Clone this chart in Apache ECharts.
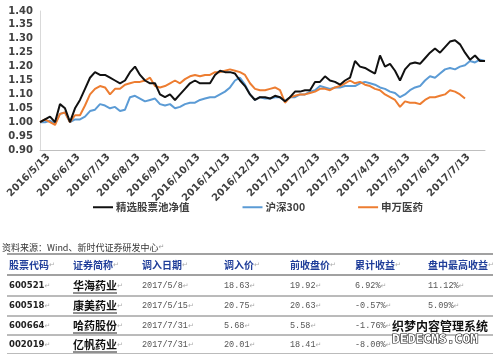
<!DOCTYPE html>
<html><head><meta charset="utf-8">
<script src="https://cdn.jsdelivr.net/npm/echarts@6/dist/echarts.min.js"></script>
<style>html,body{margin:0;padding:0;background:#fff}#c{width:500px;height:354px}</style>
</head><body><div id="c"></div>
<script>
// ---- data ----
const tickLabels = ['2016/5/13','2016/6/13','2016/7/13','2016/8/13','2016/9/13','2016/10/13','2016/11/13','2016/12/13','2017/1/13','2017/2/13','2017/3/13','2017/4/13','2017/5/13','2017/6/13','2017/7/13'];
const seriesNames = ['精选股票池净值','沪深300','申万医药'];
const netValue = [1.00,1.01,1.02,1.00,1.065,1.05,1.00,1.05,1.08,1.12,1.16,1.18,1.17,1.17,1.16,1.15,1.14,1.15,1.18,1.20,
  1.17,1.15,1.14,1.14,1.10,1.09,1.10,1.08,1.10,1.12,1.14,1.15,1.14,1.14,1.14,1.17,1.185,1.18,1.18,1.175,
  1.15,1.13,1.10,1.08,1.09,1.09,1.085,1.095,1.09,1.075,1.09,1.11,1.11,1.115,1.115,1.145,1.145,1.165,1.15,1.145,
  1.135,1.15,1.16,1.22,1.20,1.195,1.185,1.175,1.24,1.20,1.21,1.185,1.15,1.19,1.21,1.215,1.21,1.23,1.25,1.265,
  1.25,1.27,1.29,1.295,1.28,1.25,1.225,1.24,1.22,1.22];
const hs300 = [1.00,1.00,1.005,0.995,1.03,1.035,1.00,1.01,1.01,1.02,1.04,1.045,1.065,1.06,1.05,1.055,1.04,1.045,1.09,1.095,
  1.085,1.075,1.08,1.085,1.065,1.06,1.065,1.05,1.055,1.065,1.07,1.07,1.08,1.085,1.09,1.09,1.10,1.11,1.125,1.15,
  1.16,1.135,1.10,1.08,1.09,1.085,1.085,1.09,1.09,1.075,1.09,1.09,1.10,1.10,1.11,1.115,1.13,1.125,1.12,1.125,
  1.125,1.13,1.13,1.13,1.14,1.145,1.14,1.135,1.125,1.12,1.11,1.105,1.09,1.10,1.115,1.125,1.13,1.15,1.165,1.16,
  1.175,1.19,1.195,1.19,1.20,1.205,1.22,1.215,1.225,1.22];
const swMed = [1.00,1.01,1.00,0.99,1.03,1.035,1.00,1.025,1.025,1.06,1.10,1.12,1.13,1.125,1.10,1.12,1.12,1.135,1.14,1.145,
  1.145,1.15,1.16,1.13,1.125,1.13,1.14,1.15,1.14,1.155,1.165,1.17,1.165,1.17,1.17,1.18,1.18,1.185,1.19,1.185,
  1.18,1.17,1.14,1.12,1.115,1.115,1.12,1.125,1.115,1.07,1.09,1.095,1.10,1.10,1.105,1.11,1.12,1.12,1.115,1.125,
  1.13,1.14,1.15,1.14,1.145,1.135,1.13,1.12,1.115,1.10,1.09,1.08,1.055,1.075,1.07,1.07,1.065,1.08,1.09,1.09,
  1.095,1.10,1.115,1.11,1.10,1.085];

const sourceNote = '资料来源：Wind、新时代证券研发中心';
const tableHeader = ['股票代码','证券简称','调入日期','调入价','前收盘价','累计收益','盘中最高收益'];
const stockCodes = ['600521','600518','600664','002019'];
const stockNames = ['华海药业','康美药业','哈药股份','亿帆药业'];
const entryDates = ['2017/5/8','2017/5/15','2017/7/31','2017/7/31'];
const entryPrices = ['18.63','20.75','5.68','20.01'];
const prevClose = ['19.92','20.63','5.58','18.41'];
const cumReturn = ['6.92%','-0.57%','-1.76%','-8.00%'];
const maxReturn = ['11.12%','5.09%','',''];

// categories: 6 points per month, labels on the 13th
const dayParts = [13,18,23,28,3,8];
const categories = [];
(function(){
  let y = 2016, m = 5;
  while (categories.length < netValue.length) {
    for (let k = 0; k < dayParts.length && categories.length < netValue.length; k++) {
      let yy = y, mm = m;
      if (k >= 4) { mm = m + 1; if (mm > 12) { mm = 1; yy = y + 1; } }
      categories.push(yy + '/' + mm + '/' + dayParts[k]);
    }
    m++; if (m > 12) { m = 1; y++; }
  }
})();

// ---- table graphics ----
const colX = [9,73,142,224,290,355,428];
const rowY = [265,286,306,326,345];
const lineY = [254,275,296,316,335,354];
const g = [];
g.push({type:'text', left:2, top:243, style:{text:'{a|'+sourceNote+'}{r|↵}', rich:{a:{font:'9px "Noto Sans CJK SC"', fill:'#333'}, r:{font:'7px "DejaVu Sans"', fill:'#999'}}}});
lineY.forEach((ly,i)=>{
  g.push({type:'line', shape:{x1:7,y1:ly,x2:493,y2:ly}, style:{stroke: i<2 ? '#444':'#777', lineWidth: i<2?1.2:1}});
});
function cell(x, y, txt, font, color) {
  if (!txt) return;
  g.push({type:'text', x:x, y:y, style:{text:'{a|'+txt+'}{r|↵}', textVerticalAlign:'middle',
    rich:{a:{font:font, fill:color}, r:{font:'7px "DejaVu Sans"', fill:'#aaa'}}}});
}
tableHeader.forEach((h,i)=>cell(colX[i], rowY[0], h, 'bold 10px "Noto Sans CJK SC"', '#1f3d99'));
const monoFont = '8.5px "Liberation Mono"';
for (let r = 0; r < stockCodes.length; r++) {
  const y = rowY[r+1];
  cell(colX[0], y, stockCodes[r], 'bold 8.5px "DejaVu Sans"', '#222');
  cell(colX[1], y, stockNames[r], 'bold 11px "Noto Sans CJK SC"', '#111');
  g.push({type:'line', shape:{x1:colX[1], y1:y+7, x2:colX[1]+44, y2:y+7}, style:{stroke:'#222', lineWidth:1}});
  cell(colX[2], y, entryDates[r], monoFont, '#555');
  cell(colX[3], y, entryPrices[r], monoFont, '#555');
  cell(colX[4], y, prevClose[r], monoFont, '#555');
  cell(colX[5], y, cumReturn[r], monoFont, '#555');
  cell(colX[6], y, maxReturn[r], monoFont, '#555');
}
// watermark
g.push({type:'text', x:392, y:326, z:100, style:{text:'织梦内容管理系统', font:'bold 12px "Noto Sans CJK SC"', fill:'#111', stroke:'#fff', lineWidth:3, textVerticalAlign:'middle'}});
g.push({type:'text', x:392, y:340, z:100, style:{text:'DEDECMS.COM', font:'bold 13px "DejaVu Sans Mono"', fill:'#fff', stroke:'#111', lineWidth:1.2, textVerticalAlign:'middle'}});

const chart = echarts.init(document.getElementById('c'), null, {renderer:'canvas'});
const axisFont = {fontFamily:'DejaVu Sans', fontWeight:'bold', fontSize:10, color:'#404040'};
chart.setOption({
  animation:false,
  backgroundColor:'#fff',
  grid:{left:40, top:11, width:445, height:139, containLabel:false},
  legend:{
    left:93, top:202, padding:0, itemWidth:20, itemHeight:2, itemGap:53, icon:'rect',
    data:seriesNames,
    textStyle:{fontFamily:'Noto Sans CJK SC', fontWeight:'bold', fontSize:10.5, color:'#404040', padding:[0,0,0,-2]}
  },
  xAxis:{
    type:'category', data:categories, boundaryGap:false,
    axisLine:{lineStyle:{color:'#bfbfbf', width:1}},
    axisTick:{show:false},
    axisLabel:Object.assign({rotate:45, interval:5, margin:14, hideOverlap:false, padding:[0,-12,0,0]}, axisFont,
      {formatter:(v,i)=> tickLabels[i/6] || ''})
  },
  yAxis:{
    type:'value', min:0.90, max:1.40, interval:0.05,
    axisLine:{show:true, lineStyle:{color:'#d9d9d9'}},
    axisTick:{show:false},
    splitLine:{show:false},
    axisLabel:Object.assign({margin:7, formatter:v=>v.toFixed(2)}, axisFont)
  },
  series:[
    {name:seriesNames[0], type:'line', data:netValue, symbol:'none', lineStyle:{color:'#111', width:2}, itemStyle:{color:'#111'}, z:5},
    {name:seriesNames[1], type:'line', data:hs300, symbol:'none', lineStyle:{color:'#5b9bd5', width:2}, itemStyle:{color:'#5b9bd5'}, z:3},
    {name:seriesNames[2], type:'line', data:swMed, symbol:'none', lineStyle:{color:'#ed7d31', width:2}, itemStyle:{color:'#ed7d31'}, z:4}
  ],
  graphic:g
});
</script></body></html>
